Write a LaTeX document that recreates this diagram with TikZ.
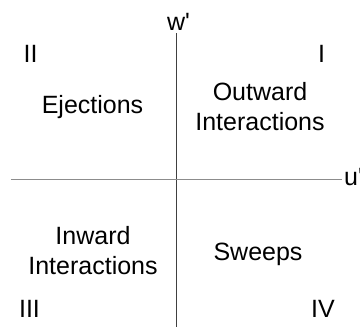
\documentclass[tikz,border=0pt]{standalone}
\usepackage{fontspec}
\setmainfont{Liberation Sans}
\usetikzlibrary{positioning}
\tikzset{
	txt/.style = {
		font=\fontsize{25}{30}\selectfont,
		inner sep=0pt
	}
}

\begin{document}
\begin{tikzpicture}[
		x = 1pt, y = -1pt,
		quad/.style = {txt, anchor=base},
		axis/.style = {line width=0.8pt}
	]
	%\draw[step=10,gray,very thin] (0,0) grid (360,327);
	\useasboundingbox (0,0) rectangle (360,327);

	\node[quad] (w) at (178.5,30) {w\textquotesingle};
	\node[txt, anchor=base west] (u) at (344,185) {u\textquotesingle};
	\coordinate (wT) at (176,33);
	\coordinate (wB) at (176,327);
	\coordinate (uL) at (11,179);
	\coordinate (uR) at (342,179);

	\node[quad] (II)  at (30.5,62)  {II};
	\node[quad] (I)   at (321.5,62) {I};
	\node[quad] (III) at (29.5,317) {III};
	\node[quad] (IV)  at (323,317)  {IV};

	\node[quad] (ej) at (92.5,113) {Ejections};
	\node[txt, align=center] (out) at (260,106.4) {Outward\\Interactions};
	\node[txt, align=center] (in) at (93,250.9) {Inward\\Interactions};
	\node[quad] (sw) at (258,260) {Sweeps};

	\draw[axis, black!75] (wT) -- (wB);
	\draw[axis, black!45] (uL) -- (uR);

\end{tikzpicture}
\end{document}
